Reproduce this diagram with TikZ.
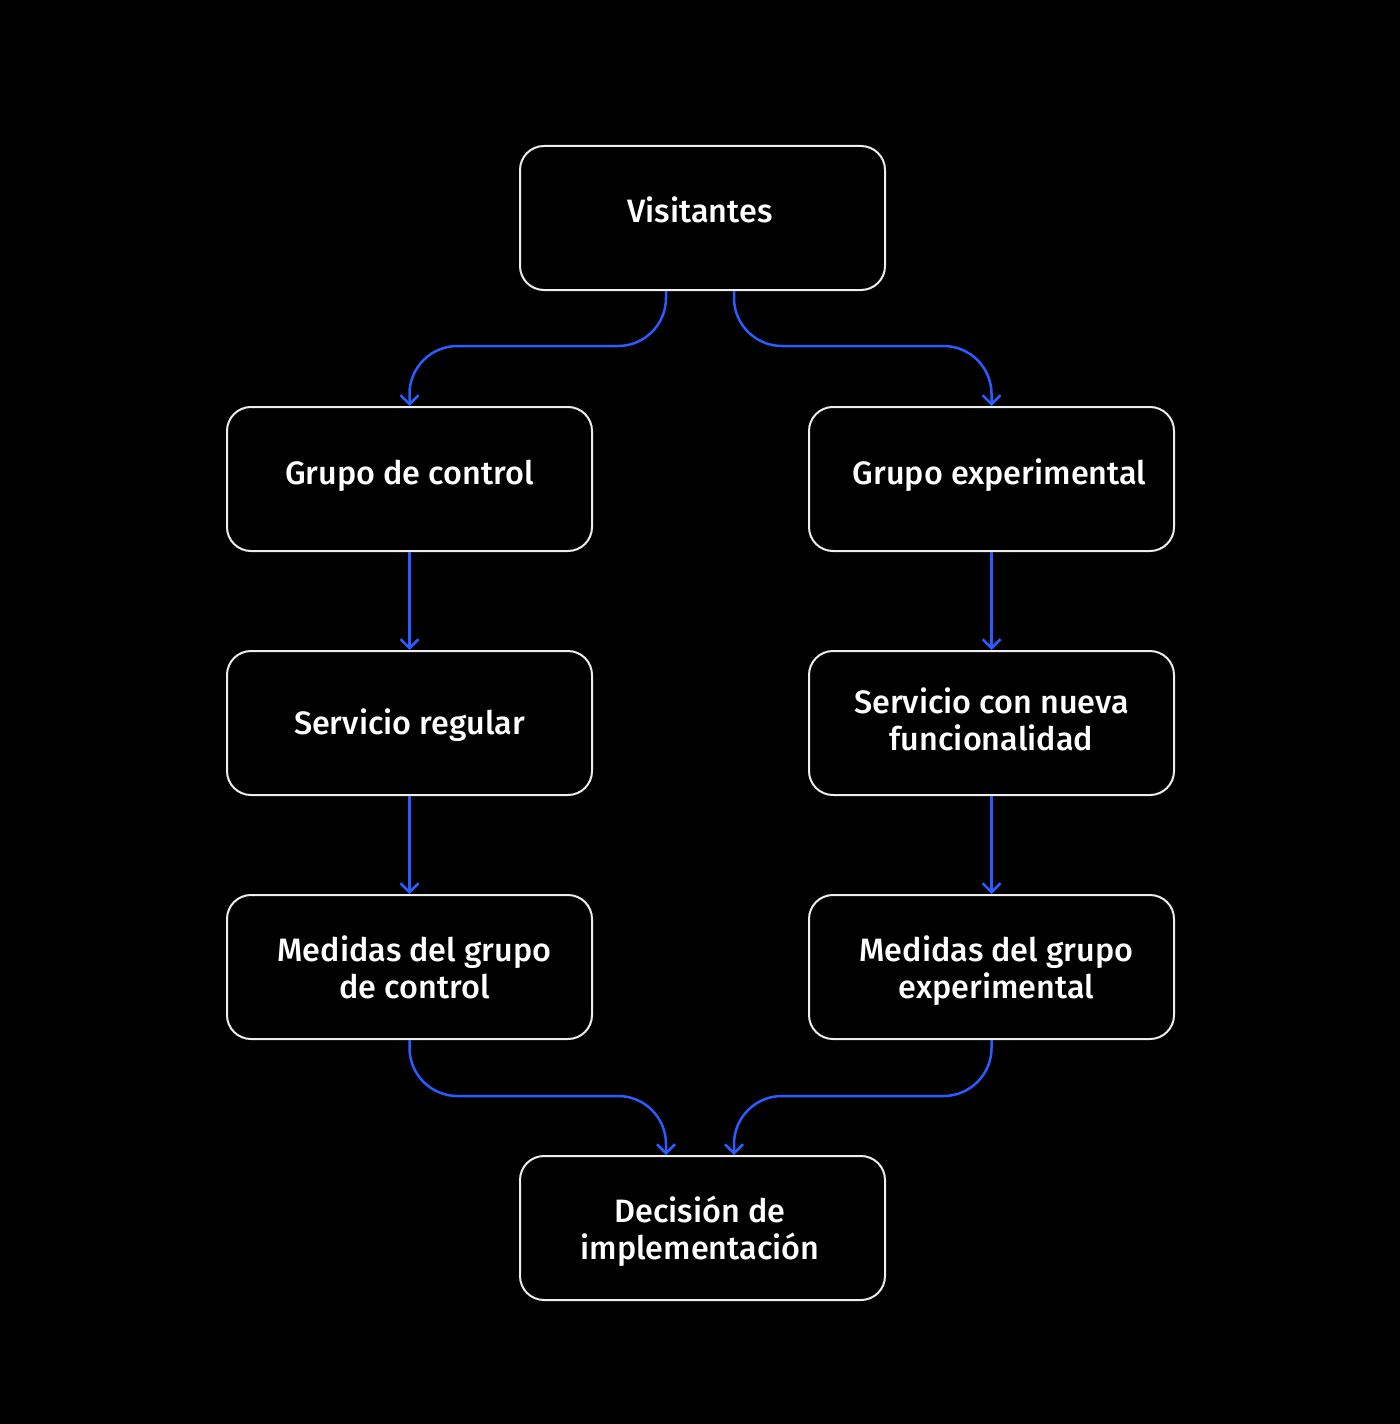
\documentclass[tikz,border=0pt]{standalone}
\usepackage{fontspec}
\setmainfont{Fira Sans Medium}
\usetikzlibrary{arrows.meta,calc}
\definecolor{connblue}{HTML}{2A5CFF}
\definecolor{boxline}{HTML}{EDEDED}
\tikzset{
  box/.style={draw=boxline, line width=2bp, rounded corners=24bp, fill=black,
    minimum width=365bp, minimum height=144bp, align=center, text=white,
    font=\fontsize{32.5}{37.5}\selectfont, inner sep=0pt},
  oneline/.style={text height=22.5bp, text depth=#1},
  lastdepth/.style={text depth=#1},
  conn/.style={draw=connblue, line width=2.5bp,
    -{Straight Barb[length=9bp,width=18bp,line width=2.5bp]}},
  curved/.style={conn, rounded corners=48bp}
}
\begin{document}
\begin{tikzpicture}[x=1bp,y=-1bp]
\useasboundingbox (0,0) rectangle (1400,1424);
\fill[black] (-10,-10) rectangle (1410,1434);
\node[box, oneline=14bp] (vis) at (702.5,218) {Visitantes\hspace*{5bp}};
\node[box, oneline=12bp] (gc) at (409.5,479) {Grupo de control};
\node[box, oneline=12bp] (ge) at (991.5,479) {\hspace*{16bp}Grupo experimental};
\node[box, oneline=0bp] (sr) at (409.5,723) {Servicio regular};
\node[box, lastdepth=8bp] (sn) at (991.5,723) {Servicio con nueva\\funcionalidad};
\node[box, lastdepth=0bp] (mc) at (409.5,967) {\hspace*{10bp}Medidas del grupo\\\hspace*{10bp}de control};
\node[box, lastdepth=0bp] (me) at (991.5,967) {\hspace*{10bp}Medidas del grupo\\\hspace*{10bp}experimental};
\node[box, lastdepth=0bp] (dec) at (702.5,1228) {Decisión de\hspace*{5bp}\\implementación\hspace*{5bp}};
\draw[curved] ($(vis.south)+(-36.5,0)$) |- ($(gc.north)+(0,-60)$) -- (gc.north);
\draw[curved] ($(vis.south)+(31.5,0)$) |- ($(ge.north)+(0,-60)$) -- (ge.north);
\draw[conn] (gc.south) -- (sr.north);
\draw[conn] (sr.south) -- (mc.north);
\draw[conn] (ge.south) -- (sn.north);
\draw[conn] (sn.south) -- (me.north);
\draw[curved] (mc.south) |- ($(dec.north)+(-36.5,-59)$) -- ($(dec.north)+(-36.5,0)$);
\draw[curved] (me.south) |- ($(dec.north)+(31.5,-59)$) -- ($(dec.north)+(31.5,0)$);
\end{tikzpicture}
\end{document}
